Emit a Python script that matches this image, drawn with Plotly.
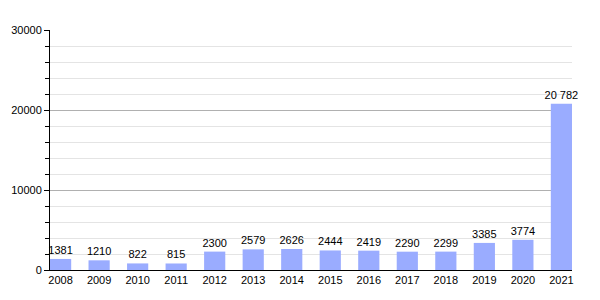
import plotly.graph_objects as go

years = ["2008", "2009", "2010", "2011", "2012", "2013", "2014", "2015",
         "2016", "2017", "2018", "2019", "2020", "2021"]
values = [1381, 1210, 822, 815, 2300, 2579, 2626, 2444, 2419, 2290, 2299, 3385, 3774, 20782]
labels = ["1381", "1210", "822", "815", "2300", "2579", "2626", "2444",
          "2419", "2290", "2299", "3385", "3774", "20 782"]
y_ticks = [0, 10000, 20000, 30000]
y_tick_text = ["0", "10000", "20000", "30000"]

idx = list(range(len(years)))
bar_w = 0.55

fig = go.Figure(go.Bar(
    x=idx, y=values, text=labels, textposition="outside",
    textfont=dict(color="black", size=11), cliponaxis=False,
    constraintext="none", width=bar_w,
    marker=dict(color="#9aacff", line=dict(width=0)),
))

fig.update_layout(
    width=600, height=300,
    margin=dict(l=50, r=28, t=30, b=30),
    paper_bgcolor="white", plot_bgcolor="white",
    font=dict(family="Liberation Sans, Arial, sans-serif", size=11, color="black"),
    showlegend=False,
)
fig.update_xaxes(
    range=[-bar_w / 2, len(years) - 1 + bar_w / 2],
    tickvals=idx, ticktext=years,
    showline=True, linecolor="black", linewidth=1, ticks="", showgrid=False,
    tickfont=dict(size=11),
)
fig.update_yaxes(
    range=[0, 30000], tickvals=y_ticks, ticktext=y_tick_text,
    showline=True, linecolor="black", linewidth=1,
    ticks="outside", ticklen=5, tickcolor="black",
    gridcolor="#b0b0b0", gridwidth=1, zeroline=False,
    minor=dict(dtick=2000, showgrid=True, gridcolor="#e4e4e4", ticks="outside",
               ticklen=4, tickcolor="black"),
    tickfont=dict(size=11),
)

fig.write_html("out.html")
